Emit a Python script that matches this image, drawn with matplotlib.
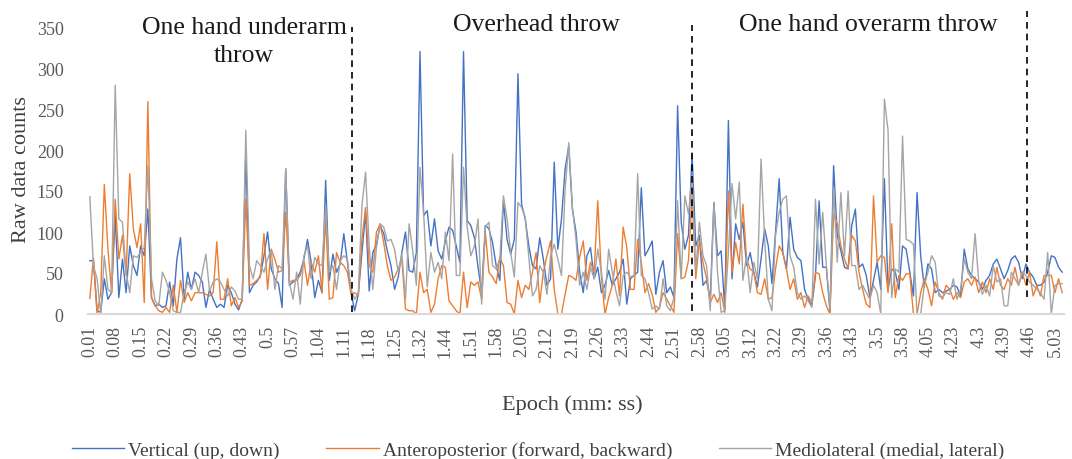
import matplotlib
matplotlib.use("Agg")
import matplotlib.pyplot as plt
import numpy as np

plt.rcParams['font.family'] = ['Liberation Serif', 'DejaVu Serif']

# raw counts per epoch
vertical = [
    65, 65, 4, 2, 43, 18, 26, 120, 20, 67, 26, 83, 59, 47, 83, 71, 128, 20, 10, 12,
    8, 10, 39, 10, 67, 93, 18, 51, 30, 51, 47, 39, 8, 30, 18, 8, 12, 8, 35, 26,
    12, 5, 18, 197, 26, 35, 39, 47, 71, 100, 55, 43,
    37, 8, 177, 35, 39, 43, 51, 67, 91, 63, 20, 41, 26, 163, 41, 73, 51, 61, 98, 63,
    26, 4, 24, 75, 124, 28, 75, 85, 108, 98, 77, 59, 30, 45, 75, 100, 53, 51, 75, 320,
    120, 126, 83, 116, 77, 67, 89, 106, 102, 83, 63, 320, 114, 108, 93,
    57, 26, 108, 104, 87, 59, 41, 138, 91, 73, 91, 293, 134, 116, 83, 59, 55, 93, 67, 35,
    43, 185, 79, 116, 177, 205, 128, 100, 51, 26, 71, 81, 43, 57, 26, 35, 53, 35, 43, 51,
    67, 12, 43, 47, 51, 154, 71, 79, 89, 24, 51, 65, 26, 33, 20,
    254, 112, 79, 96, 195, 83, 96, 35, 41, 18, 136, 71, 77, 6, 236, 43, 110, 91, 112, 59,
    75, 51, 33, 67, 104, 83, 37, 100, 165, 75, 55, 118, 79, 69, 65, 30, 18, 10, 47, 138,
    57, 57, 2, 181, 96, 77, 57, 55, 108, 128, 57, 61, 47,
    20, 41, 63, 30, 165, 30, 55, 51, 30, 83, 79, 51, 22, 148, 71, 33, 61, 55, 26, 30,
    26, 28, 30, 35, 33, 22, 79, 55, 47, 43, 39, 30, 41, 47, 61, 67, 55, 43, 53, 67,
    71, 63, 43, 61, 51, 45, 35, 35, 39, 51, 71, 69, 57, 51,
]
anteroposterior = [
    19, 68, 0, 26, 158, 79, 26, 140, 67, 96, 47, 171, 104, 81, 110, 14, 259, 20, 10, 4,
    2, 8, 2, 35, 2, 41, 14, 26, 16, 26, 26, 26, 24, 22, 26, 88, 18, 18, 43, 10,
    20, 8, 16, 140, 35, 37, 41, 45, 98, 30, 79, 67,
    51, 53, 124, 39, 41, 41, 47, 65, 35, 63, 51, 71, 26, 118, 18, 20, 75, 63, 59, 51,
    24, 26, 22, 91, 130, 59, 51, 100, 110, 87, 59, 41, 45, 55, 67, 6, 4, 4, 0, 51,
    26, 30, 2, 12, 43, 59, 57, 16, 10, 4, 0, 51, 8, 39, 35,
    39, 18, 100, 51, 45, 37, 69, 59, 14, 12, 0, 41, 20, 35, 30, 51, 75, 14, 51, 71,
    89, 30, 0, 0, 24, 47, 45, 41, 69, 89, 41, 63, 51, 138, 45, 0, 20, 35, 67, 22,
    106, 81, 30, 30, 91, 63, 26, 37, 24, 2, 8, 26, 18, 10, 2,
    98, 43, 45, 65, 146, 43, 89, 63, 43, 14, 24, 14, 26, 2, 150, 51, 87, 61, 134, 67,
    55, 51, 26, 24, 43, 18, 20, 55, 83, 75, 55, 30, 43, 18, 26, 8, 22, 14, 51, 49,
    26, 10, 0, 122, 110, 83, 67, 55, 96, 89, 51, 30, 12,
    8, 144, 63, 71, 69, 26, 110, 20, 47, 41, 49, 49, 0, 0, 26, 43, 30, 10, 39, 26,
    18, 35, 30, 18, 26, 20, 39, 43, 35, 45, 26, 39, 26, 43, 30, 57, 35, 30, 43, 35,
    57, 35, 51, 35, 51, 22, 35, 22, 47, 47, 47, 26, 43, 26,
]
mediolateral = [
    143, 59, 43, 0, 71, 30, 26, 279, 116, 112, 51, 26, 71, 69, 75, 81, 181, 43, 16, 10,
    51, 41, 26, 4, 2, 2, 26, 39, 30, 43, 26, 51, 73, 28, 39, 43, 39, 30, 22, 33,
    28, 18, 18, 224, 59, 43, 65, 59, 51, 67, 79, 30,
    59, 55, 177, 39, 18, 51, 12, 71, 83, 43, 69, 61, 59, 132, 51, 59, 30, 65, 71, 67,
    30, 18, 26, 132, 173, 83, 30, 81, 110, 106, 89, 91, 79, 51, 73, 18, 110, 77, 35, 179,
    124, 33, 75, 51, 63, 43, 100, 65, 195, 47, 47, 179, 106, 71, 83,
    116, 12, 106, 112, 59, 55, 67, 144, 116, 75, 45, 136, 130, 118, 69, 22, 30, 59, 51, 24,
    71, 85, 67, 47, 152, 209, 130, 91, 35, 51, 30, 57, 43, 79, 51, 18, 79, 51, 28, 10,
    47, 51, 45, 47, 171, 47, 43, 26, 6, 10, 6, 43, 10, 4, 20,
    138, 43, 144, 122, 169, 51, 112, 71, 59, 4, 136, 51, 2, 4, 75, 159, 116, 161, 41, 71,
    26, 63, 43, 189, 91, 18, 4, 96, 124, 140, 144, 71, 57, 26, 18, 22, 16, 8, 140, 61,
    124, 59, 6, 154, 63, 148, 71, 150, 59, 59, 30, 35, 26,
    18, 35, 26, 0, 262, 224, 20, 55, 51, 217, 91, 89, 85, 0, 0, 35, 51, 71, 63, 22,
    20, 26, 24, 43, 18, 30, 67, 51, 43, 98, 39, 24, 35, 22, 59, 39, 43, 10, 10, 51,
    43, 35, 51, 47, 39, 35, 30, 26, 18, 75, 0, 35, 37, 37,
]

tick_labels = ["0.01", "0.08", "0.15", "0.22", "0.29", "0.36", "0.43", "0.5", "0.57",
               "1.04", "1.11", "1.18", "1.25", "1.32", "1.44", "1.51", "1.58", "2.05",
               "2.12", "2.19", "2.26", "2.33", "2.44", "2.51", "2.58", "3.05", "3.12",
               "3.22", "3.29", "3.36", "3.43", "3.5", "3.58", "4.05", "4.23", "4.3",
               "4.39", "4.46", "5.03"]

series_names = ["Vertical (up, down)", "Anteroposterior (forward, backward)",
                "Mediolateral (medial, lateral)"]
colors = ["#4472C4", "#ED7D31", "#A5A5A5"]

# throw phases: name, centre epoch index; separators as epoch indices
phases = ["One hand underarm\nthrow", "Overhead throw", "One hand overarm throw"]
phase_centres = [42.5, 123, 214.5]
separators = [72.3, 165.9, 258.3]
separator_tops = [350, 352, 370]
separator_bottoms = [2, 4, 21]

n = len(vertical)
x = np.arange(n)

fig = plt.figure(figsize=(10.72, 4.6), dpi=100)
ax = fig.add_axes([88 / 1072, 1 - 315 / 460, (1064 - 88) / 1072, (315 - 28) / 460])

lines = []
for vals, c, name in zip([vertical, anteroposterior, mediolateral], colors, series_names):
    ln, = ax.plot(x, vals, color=c, lw=1.0, label=name)
    lines.append(ln)

for sx, top, bot in zip(separators, separator_tops, separator_bottoms):
    ax.plot([sx, sx], [bot, top], color="black", lw=1.2, ls=(0, (4, 3)), clip_on=False)

for txt, cx in zip(phases, phase_centres):
    if "\n" in txt:
        ax.text(cx, 333, txt, ha="center", va="center", fontsize=18.5,
                color="#1a1a1a", linespacing=1.4, clip_on=False)
    else:
        ax.text(cx, 354, txt, ha="center", va="center", fontsize=18.5,
                color="#1a1a1a", clip_on=False)

ax.set_xlim(-0.5, n - 0.5)
ax.set_ylim(0, 350)
ax.set_yticks(range(0, 351, 50))
ax.set_xticks(range(0, n, 7))
ax.set_xticklabels(tick_labels, rotation=90)
ax.tick_params(axis="both", length=0, labelsize=13, labelcolor="#595959")
ax.tick_params(axis="x", pad=8)
ax.tick_params(axis="y", pad=17.5)
for s in ["top", "right", "left"]:
    ax.spines[s].set_visible(False)
ax.spines["bottom"].set_color("#d9d9d9")
ax.spines["bottom"].set_linewidth(1.5)

fig.text(572 / 1072, 1 - 405 / 460, "Epoch (mm: ss)", ha="center", va="center",
         fontsize=16, color="#404040")
fig.text(22 / 1072, 1 - 170 / 460, "Raw data counts", ha="center", va="center",
         rotation=90, fontsize=16, color="#404040")

fig.legend(handles=lines, loc="center", bbox_to_anchor=(538 / 1072, 1 - 451 / 460),
           ncol=3, frameon=False, fontsize=14, handlelength=2.7,
           columnspacing=2.4, handletextpad=0.2, labelcolor="#404040")

fig.savefig("out.png", dpi=100)
